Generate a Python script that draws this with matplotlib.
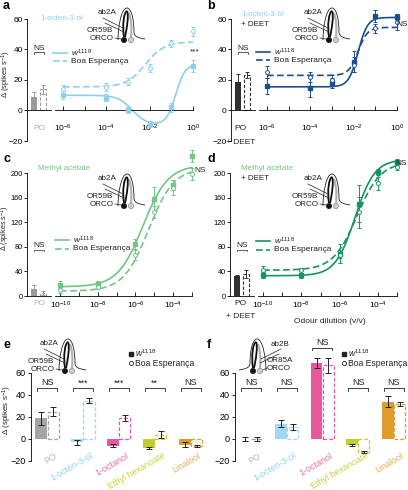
import numpy as np
import matplotlib
matplotlib.use("Agg")
import matplotlib.pyplot as plt
from matplotlib.patches import Circle, PathPatch
from matplotlib.path import Path
from matplotlib.ticker import NullFormatter

plt.rcParams['font.family'] = ['Liberation Sans', 'DejaVu Sans']
plt.rcParams['mathtext.fontset'] = 'custom'
plt.rcParams['mathtext.rm'] = 'Liberation Sans'
plt.rcParams['mathtext.it'] = 'Liberation Sans:italic'
plt.rcParams['mathtext.bf'] = 'Liberation Sans:bold'
plt.rcParams['axes.linewidth'] = 0.6

# ---------------- data ----------------
dil_octenol = [1e-6, 1e-4, 1e-3, 1e-2, 1e-1, 1e0]
a_w1118 = [10, 8.5, 0.5, -9, 2, 29]
a_w1118_err = [2.5, 2.5, 2, 2, 3, 4]
a_boa = [14, 15.5, 19, 28, 44, 52]
a_boa_err = [2.5, 2.5, 2, 2.5, 2.5, 3]
a_po = [9, 14]
a_po_err = [3, 3]

b_w1118 = [16, 15, 18, 32, 62, 61.5]
b_w1118_err = [5, 6, 3.5, 7, 4, 2]
b_boa = [25, 22, 20, 30, 54, 58]
b_boa_err = [4, 3, 3, 5, 3, 5]
b_po = [19, 23]
b_po_err = [5, 2]

dil_methyl = [1e-10, 1e-8, 1e-6, 1e-5, 1e-4, 1e-3]
c_w1118 = [18, 20, 85, 158, 180, 228]
c_w1118_err = [6, 4, 8, 20, 8, 10]
c_boa = [9, 15, 66, 137, 176, 198]
c_boa_err = [4, 4, 8, 10, 12, 10]
c_po = [12, 5]
c_po_err = [6, 3]

d_w1118 = [34, 34, 69, 150, 201, 218]
d_w1118_err = [5, 4, 15, 30, 5, 5]
d_boa = [42, 42, 66, 136, 183, 210]
d_boa_err = [6, 4, 5, 25, 10, 5]
d_po = [32, 36]
d_po_err = [2, 6]

# fitted dose-response parameters
# hill: [bottom, top, logEC50, slope]; biphasic: [base, amp1, logEC1, n1, amp2, logEC2, n2]
fit_a_w1118 = [10, -19.5, -2.8, 1.3, 40, -0.8, 2.0]
fit_a_boa = [15.5, 45, -2.2, 1.0]
fit_b_w1118 = [15.5, 61, -1.8, 2.0]
fit_b_boa = [23, 54.5, -1.8, 2.0]
fit_c_w1118 = [15, 213, -5.6, 0.65]
fit_c_boa = [8, 208, -5.3, 0.65]
fit_d_w1118 = [33, 222, -5.2, 0.85]
fit_d_boa = [42, 218, -5.1, 0.7]

odours = ['PO', '1-octen-3-ol', '1-octanol', 'Ethyl hexanoate', 'Linalool']
e_w1118 = [19, -3, -6, -8, -5]
e_w1118_err = [6, 2, 1.5, 1, 2]
e_boa = [25, 35, 19, 4, -6]
e_boa_err = [4, 2.5, 3, 3, 1]
e_sig = ['NS', '***', '***', '**', 'NS']

f_w1118 = [0, 14, 69, -5.5, 34]
f_w1118_err = [2, 3.5, 4.5, 1, 5]
f_boa = [0, 11, 67, -11.5, 32]
f_boa_err = [2, 2.5, 7, 1, 2]
f_sig = ['NS', 'NS', 'NS', 'NS', 'NS']

# ---------------- style ----------------
C_OCT_L = '#8ecfee'
C_OCT_D = '#1d4d91'
C_MET_L = '#74c489'
C_MET_D = '#14965f'
bar_colors = ['#a5a5a5', '#a3d8f2', '#e8589d', '#c3cd2c', '#de9c2c']
text_colors = ['#b8b8b8', '#8fd0ee', '#ec6aa8', '#c9d23e', '#e2ad55']

W, H = 408, 490
fig = plt.figure(figsize=(W / 100, H / 100), dpi=100)


def box(x0, y0, x1, y1):
    return [x0 / W, 1 - y1 / H, (x1 - x0) / W, (y1 - y0) / H]


def hill(x, p):
    bottom, top, logec, n = p
    return bottom + (top - bottom) / (1 + 10 ** ((logec - np.log10(x)) * n))


def biphasic(x, p):
    base, a1, l1, n1, a2, l2, n2 = p
    lx = np.log10(x)
    return base + a1 / (1 + 10 ** ((l1 - lx) * n1)) + a2 / (1 + 10 ** ((l2 - lx) * n2))


DASH = (0, (3.0, 1.6))


def dose_panel(po_px, log_px, ylim, yticks, xlim, major, minor, x, w, we, b, be,
               fw, fb, color, po, po_err, po_color, pad, ysize):
    ax0 = fig.add_axes(box(*po_px))
    ax0.set_xlim(0, 1)
    ax0.set_ylim(*ylim)
    ax0.bar(0.29, po[0], width=0.25, color=po_color, zorder=2)
    ax0.errorbar(0.29, po[0], yerr=po_err[0], fmt='none', ecolor=po_color,
                 elinewidth=0.7, capsize=1.5, capthick=0.7, zorder=3)
    ax0.bar(0.67, po[1], width=0.24, fill=False, edgecolor=po_color,
            linestyle=DASH, linewidth=0.8, zorder=2)
    ax0.errorbar(0.67, po[1], yerr=po_err[1], fmt='none', ecolor=po_color,
                 elinewidth=0.7, capsize=1.5, capthick=0.7, zorder=3)
    for s in ['top', 'right']:
        ax0.spines[s].set_visible(False)
    ax0.spines['bottom'].set_position(('data', 0))
    ax0.set_xticks([])
    ax0.set_yticks(yticks)
    ax0.tick_params(axis='y', length=2, width=0.6, labelsize=ysize, pad=1)
    ax0.patch.set_alpha(0)

    ax1 = fig.add_axes(box(*log_px))
    ax1.set_xscale('log')
    ax1.set_xlim(*xlim)
    ax1.set_ylim(*ylim)
    for s in ['top', 'right', 'left']:
        ax1.spines[s].set_visible(False)
    ax1.spines['bottom'].set_position(('data', 0))
    ax1.spines['bottom'].set_bounds(xlim[0], 10.0 ** max(minor + major))
    ax1.set_yticks([])
    ax1.set_xticks([10.0 ** e for e in major])
    ax1.set_xticklabels([r'$10^{%d}$' % e for e in major])
    ax1.set_xticks([10.0 ** e for e in minor], minor=True)
    ax1.xaxis.set_minor_formatter(NullFormatter())
    ax1.tick_params(axis='x', which='both', direction='in', length=3, width=0.6,
                    labelsize=6, pad=pad)
    ax1.patch.set_alpha(0)
    xf = np.logspace(np.log10(x[0]), np.log10(x[-1]), 300)
    ax1.plot(xf, fw(xf), color=color, lw=1.2, clip_on=False, zorder=2)
    ax1.plot(xf, fb(xf), color=color, lw=1.2, ls=(0, (4, 2)), clip_on=False, zorder=2)
    ax1.errorbar(x, w, yerr=we, fmt='s', ms=2.6, color=color, mec=color,
                 elinewidth=0.7, capsize=1.5, capthick=0.7, clip_on=False, zorder=3)
    ax1.errorbar(x, b, yerr=be, fmt='o', ms=2.8, color=color, mfc='white', mec=color,
                 mew=0.7, elinewidth=0.7, capsize=1.5, capthick=0.7, clip_on=False, zorder=3)
    return ax0, ax1


# panel a
dose_panel((27, 19, 51, 141), (55, 19, 197, 141), (-20, 60), [-20, 0, 20, 40, 60],
           (10 ** -6.37, 10 ** 0.18), [-6, -4, -2, 0], [-5, -3, -1],
           dil_octenol, a_w1118, a_w1118_err, a_boa, a_boa_err,
           lambda v: biphasic(v, fit_a_w1118), lambda v: hill(v, fit_a_boa),
           C_OCT_L, a_po, a_po_err, '#9a9a9a', 9, 6)
# panel b
dose_panel((231, 19, 255, 141), (259, 19, 401, 141), (-20, 60), [-20, 0, 20, 40, 60],
           (10 ** -6.37, 10 ** 0.18), [-6, -4, -2, 0], [-5, -3, -1],
           dil_octenol, b_w1118, b_w1118_err, b_boa, b_boa_err,
           lambda v: hill(v, fit_b_w1118), lambda v: hill(v, fit_b_boa),
           C_OCT_D, b_po, b_po_err, '#303030', 9, 6)
# panel c
dose_panel((27, 173, 51, 296), (55, 173, 200, 296), (0, 200), [0, 40, 80, 120, 160, 200],
           (10 ** -10.27, 10 ** -2.57), [-10, -8, -6, -4], [-9, -7, -5, -3],
           dil_methyl, c_w1118, c_w1118_err, c_boa, c_boa_err,
           lambda v: hill(v, fit_c_w1118), lambda v: hill(v, fit_c_boa),
           C_MET_L, c_po, c_po_err, '#9a9a9a', 2.5, 5.3)
# panel d
dose_panel((230, 173, 254, 296), (258, 173, 402, 296), (0, 200), [0, 40, 80, 120, 160, 200],
           (10 ** -10.26, 10 ** -2.75), [-10, -8, -6, -4], [-9, -7, -5, -3],
           dil_methyl, d_w1118, d_w1118_err, d_boa, d_boa_err,
           lambda v: hill(v, fit_d_w1118), lambda v: hill(v, fit_d_boa),
           C_MET_D, d_po, d_po_err, '#303030', 2.5, 5.3)


def bar_panel(px, w, we, b, be, sig, sig_y):
    ax = fig.add_axes(box(*px))
    xs = np.arange(len(odours))
    ax.set_xlim(-0.45, 4.4)
    ax.set_ylim(-20, 60)
    ax.bar(xs - 0.165, w, width=0.33, color=bar_colors, zorder=2, clip_on=False)
    ax.bar(xs + 0.165, b, width=0.31, facecolor='white', edgecolor=bar_colors,
           linestyle=DASH, linewidth=0.9, zorder=2, clip_on=False)
    ax.errorbar(xs - 0.165, w, yerr=we, fmt='none', ecolor='#222222', elinewidth=0.7,
                capsize=2, capthick=0.7, zorder=3, clip_on=False)
    ax.errorbar(xs + 0.165, b, yerr=be, fmt='none', ecolor='#222222', elinewidth=0.7,
                capsize=2, capthick=0.7, zorder=3, clip_on=False)
    for s in ['top', 'right', 'bottom']:
        ax.spines[s].set_visible(False)
    ax.spines['left'].set_bounds(-20, 60)
    ax.set_xticks([])
    ax.set_yticks([-20, 0, 20, 40, 60])
    ax.tick_params(axis='y', length=2.5, width=0.6, labelsize=6.5, pad=1.5)
    ax.patch.set_alpha(0)
    for i, name in enumerate(odours):
        ax.text(i + 0.2, -11, name, rotation=30, ha='right', va='top',
                rotation_mode='anchor', color=text_colors[i], fontsize=6.5)
        yy = sig_y[i]
        ax.text(i, yy + 1, sig[i], ha='center', va='bottom', fontsize=6.5,
                color='#222222', clip_on=False)
        ax.plot([i - 0.28, i - 0.28, i + 0.28, i + 0.28], [yy - 2, yy, yy, yy - 2],
                color='#222222', lw=0.6, clip_on=False)
    return ax


bar_panel((31, 373, 205, 461), e_w1118, e_w1118_err, e_boa, e_boa_err, e_sig,
          [46, 46, 46, 46, 46])
bar_panel((235, 373, 408, 461), f_w1118, f_w1118_err, f_boa, f_boa_err, f_sig,
          [46, 46, 83, 46, 46])

# ---------------- overlay (pixel coordinates) ----------------
ov = fig.add_axes([0, 0, 1, 1])
ov.set_xlim(0, W)
ov.set_ylim(H, 0)
ov.axis('off')
ov.patch.set_alpha(0)


def T(x, y, s, size=6, color='#222222', ha='left', va='center', **kw):
    ov.text(x, y, s, fontsize=size, color=color, ha=ha, va=va, **kw)


# panel letters
for lx, ly, l in [(3, 6, 'a'), (207, 6, 'b'), (3, 159, 'c'), (207, 159, 'd'),
                  (3, 345, 'e'), (207, 345, 'f')]:
    T(lx, ly, l, size=9, weight='bold', color='black')

YL = r'$\it{\Delta}$ (spikes s$^{-1}$)'
T(6, 74, YL, size=5.5, ha='center', rotation=90)
T(5.8, 228, YL, size=5.2, ha='center', rotation=90)
T(7, 410, YL, size=5.8, ha='center', rotation=90)

# titles
T(40, 18, '1-octen-3-ol', size=5.8, color=C_OCT_L)
T(241, 15, '1-octen-3-ol', size=5.8, color=C_OCT_L)
T(241, 24, '+ DEET', size=5.8)
T(38, 168, 'Methyl acetate', size=5.8, color=C_MET_L)
T(241, 168, 'Methyl acetate', size=5.8, color=C_MET_L)
T(241, 178, '+ DEET', size=5.8)

# PO labels
T(39, 128, 'PO', size=6, color='#b0b0b0', ha='center')
T(240, 128, 'PO', size=6, ha='center')
T(241, 142, '+ DEET', size=6, ha='center')
T(39, 303, 'PO', size=6, color='#b0b0b0', ha='center')
T(240, 303, 'PO', size=6, ha='center')
T(241, 316, '+ DEET', size=6, ha='center')
T(330, 321, 'Odour dilution (v/v)', size=6, ha='center')

# significance labels on dose panels
for (nx, ny) in [(39, 48), (243, 48), (39, 245), (242, 245)]:
    T(nx, ny, 'NS', size=6, ha='center')
    ov.plot([nx - 5, nx - 5, nx + 5, nx + 5], [ny + 6, ny + 4.5, ny + 4.5, ny + 6],
            color='#222222', lw=0.5)
T(195, 52, '***', size=6, ha='center')
T(402, 24, 'NS', size=6, ha='center')
T(200, 170, 'NS', size=6, ha='center')
T(401, 163, 'NS', size=6, ha='center')


def legend_lines(x0, y0, color, dy=8.5):
    ov.plot([x0, x0 + 14], [y0, y0], color=color, lw=1.2)
    ov.plot([x0, x0 + 14], [y0 + dy, y0 + dy], color=color, lw=1.2, ls=(0, (4, 2)))
    T(x0 + 18, y0, r'$\it{w}^{1118}$', size=6)
    T(x0 + 18, y0 + dy, 'Boa Esperança', size=6)


legend_lines(53, 53, C_OCT_L)
legend_lines(256, 52, C_OCT_D)
legend_lines(55, 240, C_MET_L)
legend_lines(256, 241, C_MET_D)


def legend_markers(x0, y0, dy=9):
    ov.plot([x0], [y0], 's', ms=2.6, color='#222222')
    ov.plot([x0], [y0 + dy], 'o', ms=3, mfc='white', mec='#222222', mew=0.6)
    T(x0 + 4, y0 - 0.5, r'$\it{w}^{1118}$', size=6.2)
    T(x0 + 4, y0 + dy, 'Boa Esperança', size=6.2)


legend_markers(131, 354)
legend_markers(344, 354)

C4 = [Path.MOVETO, Path.CURVE4, Path.CURVE4, Path.CURVE4]


def sensillum(cx, cy, labels, mirror=False):
    def mx(x):
        return cx + (7 - x if mirror else x)
    verts = [(-6, 0), (-6, -12), (-3, -32), (3, -32),
             (8, -32), (10, -18), (10, -8),
             (10, -3), (15, -2), (21, -1)]
    codes = [Path.MOVETO] + [Path.CURVE4] * 9
    pv = [(mx(x), cy + y) for x, y in verts]
    ov.add_patch(PathPatch(Path(pv, codes), fill=False, lw=0.6, color='#222222'))
    # dendrites
    g = [(7, -3), (8, -12), (7, -22), (5, -27)]
    k1 = [(0, -3), (-2, -15), (0, -28), (3, -29)]
    k2 = [(3, -29), (5, -25), (3, -12), (1, -3)]
    for pts, col, lw in [(g, '#b0b0b0', 1.5), (k1, '#111111', 1.3), (k2, '#111111', 1.3)]:
        ov.add_patch(PathPatch(Path([(cx + x, cy + y) for x, y in pts], C4),
                               fill=False, lw=lw, color=col))
    ov.add_patch(Circle((cx, cy), 2.6, facecolor='#111111', edgecolor='#111111', lw=0.5))
    ov.add_patch(Circle((cx + 7, cy), 2.6, facecolor='#cfcfcf', edgecolor='#888888', lw=0.5))
    # pointer lines and labels
    if not mirror:
        ov.plot([cx - 21, cx - 1], [cy - 22, cy - 12], color='#222222', lw=0.5)
        ov.plot([cx - 19, cx], [cy - 17, cy - 8], color='#222222', lw=0.5)
        ov.plot([cx - 9, cx - 3], [cy - 2, cy - 1], color='#222222', lw=0.5)
        T(cx - 7, cy - 28, labels[0], size=5.8, ha='right')
        T(cx - 11, cy - 10, labels[1], size=5.8, ha='right')
        T(cx - 10, cy - 2, labels[2], size=5.8, ha='right')
    else:
        ov.plot([cx + 28, cx + 8], [cy - 22, cy - 12], color='#222222', lw=0.5)
        ov.plot([cx + 26, cx + 7], [cy - 17, cy - 8], color='#222222', lw=0.5)
        ov.plot([cx + 14, cx + 10], [cy - 3, cy - 1], color='#222222', lw=0.5)
        T(cx + 18, cy - 27, labels[0], size=5.8)
        T(cx + 14, cy - 11, labels[1], size=5.8)
        T(cx + 14, cy - 3, labels[2], size=5.8)


sensillum(124, 40, ['ab2A', 'OR59B', 'ORCO'])
sensillum(329, 40, ['ab2A', 'OR59B', 'ORCO'])
sensillum(124, 206, ['ab2A', 'OR59B', 'ORCO'])
sensillum(329, 206, ['ab2A', 'OR59B', 'ORCO'])
sensillum(65, 371, ['ab2A', 'OR59B', 'ORCO'])
sensillum(253, 371, ['ab2B', 'OR85A', 'ORCO'], mirror=True)

fig.savefig('out.png', dpi=100)
